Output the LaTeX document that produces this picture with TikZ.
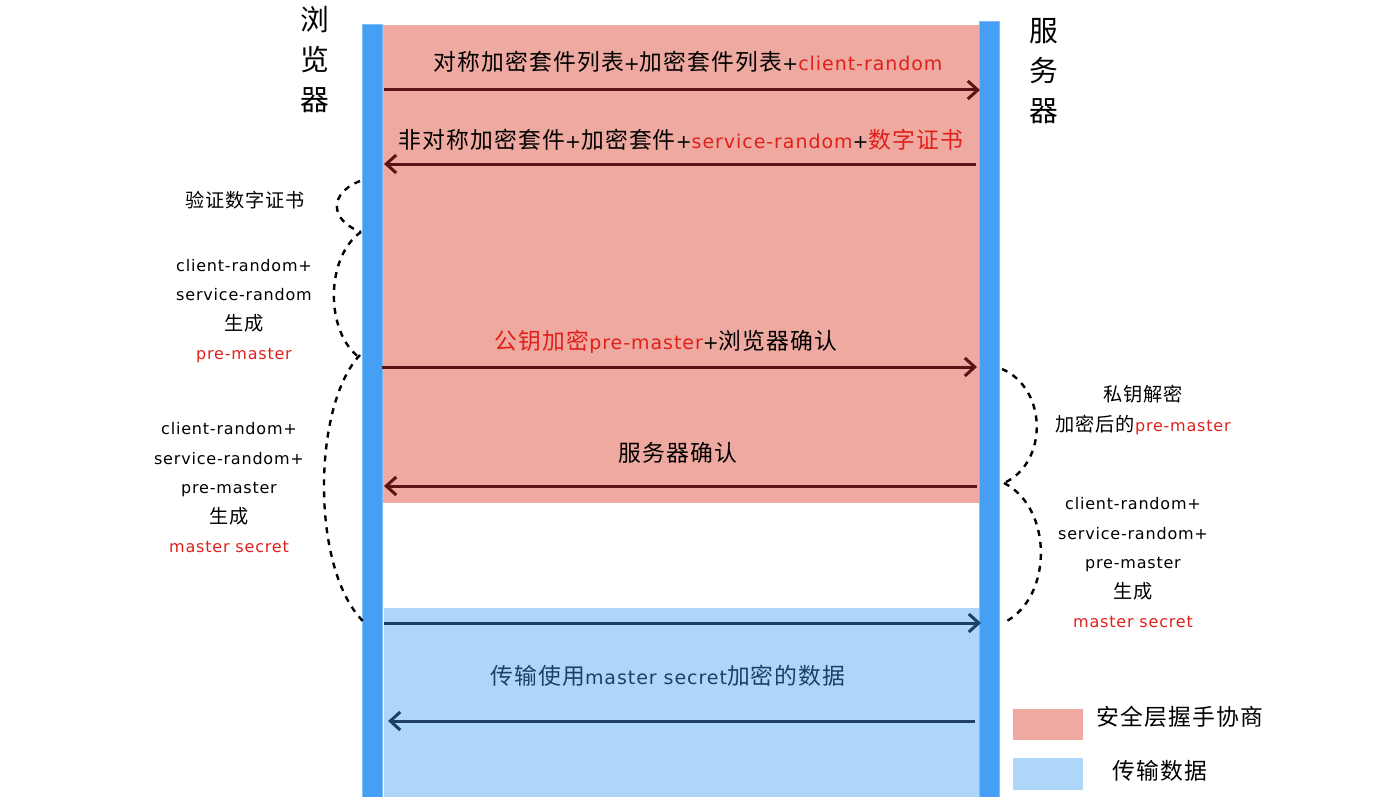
\documentclass[tikz,border=0pt]{standalone}
\usepackage{fontspec}
\setmainfont{DejaVu Sans}[LetterSpace=5]
\newfontfamily\cjkfam{Noto Sans CJK SC}[Scale=1.2,LetterSpace=5]
\newcommand\zh[1]{{\cjkfam #1}}
\usetikzlibrary{positioning,arrows.meta}
\definecolor{handshake}{HTML}{EEA9A0}
\definecolor{transfer}{HTML}{AED6FA}
\definecolor{barblue}{HTML}{449FF5}
\definecolor{barline}{HTML}{7DBDF7}
\definecolor{msgred}{HTML}{5A1414}
\definecolor{msgblue}{HTML}{1E3F66}
\definecolor{keyred}{HTML}{E0201A}
\begin{document}
\begin{tikzpicture}[x=1pt,y=-1pt]
% STYLES
\tikzset{%
    bar/.style={%
        rectangle,fill=barblue,draw=barline,line width=1pt,
        minimum width=20pt,inner sep=0pt
    },
    msg/.style={-{Straight Barb[length=10pt,width=18pt]},line width=3pt,draw=msgred},
    datamsg/.style={msg,draw=msgblue},
    msgtext/.style={inner sep=0pt,font=\fontsize{19}{24}\selectfont},
    note/.style={align=center,inner sep=0pt,font=\fontsize{16}{29.5}\selectfont},
    party/.style={align=center,inner sep=0pt,font=\fontsize{24}{40}\selectfont},
    dashcurve/.style={line width=2.4pt,dash pattern=on 6pt off 6pt},
    keybox/.style={rectangle,minimum width=70pt,minimum height=31pt,inner sep=0pt}
}
\useasboundingbox (0,0) rectangle (1394,797);
% Draw zones
\fill[handshake] (382,25) rectangle (979,503);
\fill[transfer] (384,608) rectangle (979,797);
% Draw both parties
\node [bar,minimum height=772pt] (browser) at (372,411) {};
\node [bar,minimum height=775pt] (server) at (989,409.5) {};
\node [party] (browsername) at (315,60) {\zh{浏}\\\zh{览}\\\zh{器}};
\node [party] (servername) at (1044,71) {\zh{服}\\\zh{务}\\\zh{器}};
% Draw ends of the messages
\coordinate (m1s) at (384,90);  \coordinate (m1e) at (980,90);
\coordinate (m2s) at (976,164); \coordinate (m2e) at (384,164);
\coordinate (m3s) at (382,367); \coordinate (m3e) at (977,367);
\coordinate (m4s) at (977,486); \coordinate (m4e) at (384,486);
\coordinate (m5s) at (384,623); \coordinate (m5e) at (981,623);
\coordinate (m6s) at (975,721); \coordinate (m6e) at (388,721);
% Draw the messages
\draw[msg] (m1s) -- (m1e);
\draw[msg] (m2s) -- (m2e);
\draw[msg] (m3s) -- (m3e);
\draw[msg] (m4s) -- (m4e);
\draw[datamsg] (m5s) -- (m5e);
\draw[datamsg] (m6s) -- (m6e);
\node [msgtext] (hello) at (688,62) {\zh{对称加密套件列表}+\zh{加密套件列表}+\textcolor{keyred}{client-random}};
\node [msgtext] (reply) at (681,140) {\zh{非对称加密套件}+\zh{加密套件}+\textcolor{keyred}{service-random}+\textcolor{keyred}{\zh{数字证书}}};
\node [msgtext] (keyex) at (666,342) {\textcolor{keyred}{\zh{公钥加密}pre-master}+\zh{浏览器确认}};
\node [msgtext] (done) at (678,453) {\zh{服务器确认}};
\node [msgtext,text=msgblue] (payload) at (668,676) {\zh{传输使用}master secret\zh{加密的数据}};
% Draw the steps beside the parties
\node [note] (verify) at (245,200) {\zh{验证数字证书}};
\node [note] (premaster) at (244,311) {client-random+\\service-random\\\zh{生成}\\\textcolor{keyred}{pre-master}};
\node [note] (mastera) at (229,488) {client-random+\\service-random+\\pre-master\\\zh{生成}\\\textcolor{keyred}{master secret}};
\node [note] (decrypt) at (1143,410) {\zh{私钥解密}\\\zh{加密后的}\textcolor{keyred}{pre-master}};
\node [note] (masterb) at (1133,563) {client-random+\\service-random+\\pre-master\\\zh{生成}\\\textcolor{keyred}{master secret}};
% Draw the dashed spans
\coordinate (l0) at (360,181); \coordinate (l1) at (361,232);
\coordinate (l2) at (360,358); \coordinate (l3) at (366,624);
\coordinate (r0) at (1002,369); \coordinate (r1) at (1004,483);
\coordinate (r2) at (1005,622);
\draw[dashcurve] (l0) .. controls +(-31,12) and +(-32,-12) .. (l1);
\draw[dashcurve] (l1) .. controls +(-36,25) and +(-35,-25) .. (l2);
\draw[dashcurve] ([yshift=3pt]l2) .. controls +(-48,50) and +(-56,-50) .. (l3);
\draw[dashcurve] (r0) .. controls +(46,20) and +(44,-20) .. (r1);
\draw[dashcurve] (r1) .. controls +(49,25) and +(48,-25) .. (r2);
% Draw the key
\node [keybox,fill=handshake] (keyhs) at (1048,724) {};
\node [keybox,fill=transfer,minimum height=32pt] (keydata) at (1048,774) {};
\node [msgtext] (keyhstext) at (1180,717) {\zh{安全层握手协商}};
\node [msgtext] (keydatatext) at (1160,771) {\zh{传输数据}};
\end{tikzpicture}
\end{document}
